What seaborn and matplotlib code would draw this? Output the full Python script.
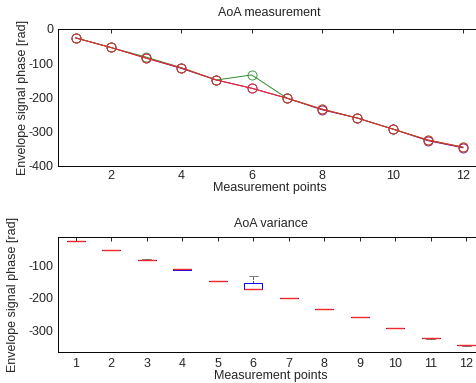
import seaborn as sns
import matplotlib.pyplot as plt
import pandas as pd

points = list(range(1, 13))
phase_red = [-26, -54, -85, -113, -149, -173, -202, -234, -260, -292, -324, -345]
phase_green = [-26, -54, -82, -113, -149, -134, -202, -234, -260, -292, -324, -345]
phase_purple = [-26, -54, -85, -115, -149, -173, -202, -236, -260, -292, -326, -347]

series_names = ["purple", "green", "red"]
series_colors = {"purple": "#800080", "green": "#2e8b2e", "red": "#f02828"}

frames = []
for name, vals in zip(series_names, [phase_purple, phase_green, phase_red]):
    frames.append(pd.DataFrame({"point": points, "phase": vals, "series": name}))
df = pd.concat(frames, ignore_index=True)

sns.set_style("white")
plt.rcParams['font.family'] = ['Liberation Sans', 'DejaVu Sans']
plt.rcParams['font.size'] = 9
plt.rcParams['axes.unicode_minus'] = False

fig = plt.figure(figsize=(4.77, 3.83), dpi=100)
ax1 = fig.add_axes([0.1216, 0.5666, 0.886, 0.3577])
ax2 = fig.add_axes([0.1216, 0.0809, 0.893, 0.300])

# top: each measurement series as a line with open circles
for name in series_names:
    c = series_colors[name]
    sns.lineplot(data=df[df["series"] == name], x="point", y="phase", color=c,
                 marker="o", markersize=6.5, markerfacecolor="none", markeredgecolor=c,
                 markeredgewidth=0.6, linewidth=0.7, errorbar=None, ax=ax1)
ax1.set_xlim(0.5, 12.5)
ax1.set_ylim(-400, 0)
ax1.set_xticks([2, 4, 6, 8, 10, 12])
ax1.set_yticks([-400, -300, -200, -100, 0])
ax1.set_title("AoA measurement", fontsize=9, pad=9)
ax1.set_xlabel("Measurement points", fontsize=9, labelpad=0)
ax1.set_ylabel("Envelope signal phase [rad]", fontsize=9, labelpad=0)

# bottom: spread over the series at each point
sns.boxplot(data=df, x="point", y="phase", width=0.5, fill=False, ax=ax2,
            boxprops=dict(color="blue", linewidth=0.7),
            medianprops=dict(color="#f02828", linewidth=1.0, zorder=5),
            whiskerprops=dict(color="black", linestyle="--", linewidth=0.5),
            capprops=dict(color="#666666", linewidth=0.6, zorder=1),
            flierprops=dict(marker="+", markeredgecolor="red"))
ax2.set_xlim(-0.5, 11.5)
ax2.set_ylim(-367, -14)
ax2.set_yticks([-300, -200, -100])
ax2.set_title("AoA variance", fontsize=9, pad=7)
ax2.set_xlabel("Measurement points", fontsize=9, labelpad=0)
ax2.set_ylabel("Envelope signal phase [rad]", fontsize=9, labelpad=7)

for ax in (ax1, ax2):
    ax.tick_params(direction="in", top=True, right=True, length=3, width=0.6,
                   labelsize=9, pad=3, color="black")
    for s in ax.spines.values():
        s.set_color("black")
        s.set_linewidth(0.7)
ax2.tick_params(axis="x", pad=4)

plt.savefig("out.png", dpi=100)
